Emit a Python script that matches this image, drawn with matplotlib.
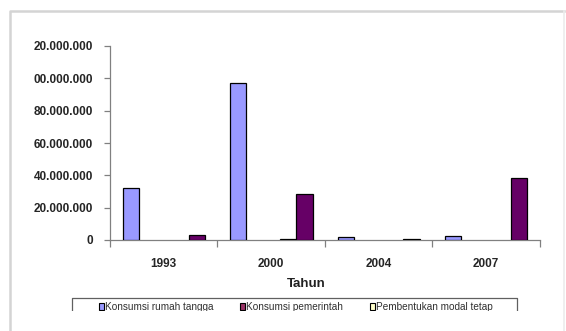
import numpy as np
import matplotlib
matplotlib.use("Agg")
import matplotlib.pyplot as plt
from matplotlib.lines import Line2D
from matplotlib.patches import Rectangle

# tahun dan nilai per komponen (rupiah)
tahun = ["1993", "2000", "2004", "2007"]
konsumsi_rumah_tangga = [32400000, 97000000, 2000000, 2500000]
konsumsi_pemerintah = [0, 0, 0, 0]
pembentukan_modal = [0, 0, 0, 0]
seri_4 = [0, 500000, 0, 0]
seri_5 = [2900000, 28500000, 500000, 38600000]

nama_legenda = ["Konsumsi rumah tangga", "Konsumsi pemerintah",
                "Pembentukan modal tetap"]
warna = ["#9999ff", "#993366", "#ffffcc", "#ccffff", "#660066"]
yticks = [0, 20000000, 40000000, 60000000, 80000000, 100000000, 120000000]
ylabels = ["0", "20.000.000", "40.000.000", "60.000.000", "80.000.000",
           "00.000.000", "20.000.000"]

plt.rcParams["font.family"] = ["Liberation Sans", "DejaVu Sans"]

fig = plt.figure(figsize=(5.66, 3.31), dpi=100)
ax = fig.add_axes([110 / 566, 1 - 240 / 331, 430 / 566, 194 / 331])

semua = [konsumsi_rumah_tangga, konsumsi_pemerintah, pembentukan_modal,
         seri_4, seri_5]
lebar = 16.5 / 107.5
tepi = 12.5 / 107.5
x = np.arange(len(tahun))
for j, nilai in enumerate(semua):
    nilai = np.array(nilai)
    ada = nilai > 0
    ax.bar(x[ada] + tepi + j * lebar, nilai[ada], width=lebar, align="edge",
           color=warna[j], edgecolor="black", linewidth=0.9, zorder=3)

ax.set_xlim(0, len(tahun))
ax.set_ylim(0, 120000000)
ax.set_yticks(yticks)
ax.set_yticklabels(ylabels, fontsize=8.5, fontweight="bold", color="#252525")
ax.set_xticks(x + 0.5)
ax.set_xticklabels(tahun, fontsize=8.5, fontweight="bold", color="#252525")
ax.set_xticks(np.arange(len(tahun) + 1), minor=True)
ax.tick_params(axis="x", which="major", length=0, pad=13)
ax.tick_params(axis="x", which="minor", length=5, color="#808080", width=0.9)
ax.tick_params(axis="y", length=4, color="#808080", width=0.9, pad=8)
for s in ["top", "right"]:
    ax.spines[s].set_visible(False)
for s in ["left", "bottom"]:
    ax.spines[s].set_color("#808080")
    ax.spines[s].set_linewidth(0.9)

fig.text(306 / 566, 1 - 284 / 331, "Tahun", fontsize=9.5,
         fontweight="bold", ha="center", va="center", color="#202020")

# legenda di bawah, hanya baris pertama yang tampak
W, H = 566.0, 331.0
def fx(px):
    return px / W
def fy(py):
    return 1 - py / H

kotak_x = [99, 240, 370]
for kx, nama, c in zip(kotak_x, nama_legenda, warna[:3]):
    fig.patches.append(Rectangle((fx(kx), fy(310)), 5 / W, 7 / H,
                                 transform=fig.transFigure, facecolor=c,
                                 edgecolor="black", linewidth=0.8))
    fig.text(fx(kx + 6), fy(307), nama, fontsize=7.2, ha="left",
             va="center", color="#303030")

fig.lines.append(Line2D([fx(72), fx(72), fx(517), fx(517)],
                        [fy(310), fy(298), fy(298), fy(310)],
                        transform=fig.transFigure, color="#606060", lw=0.9))
fig.patches.append(Rectangle((0, 0), 1, fy(310.5), transform=fig.transFigure,
                             facecolor="white", edgecolor="none", zorder=5))

# bingkai abu-abu
fig.lines.append(Line2D([fx(10), fx(10), fx(564)], [0, fy(11), fy(11)],
                        transform=fig.transFigure, color="#d4d4d4", lw=1.8,
                        zorder=6))
fig.lines.append(Line2D([fx(564), fx(564)], [0, fy(11)],
                        transform=fig.transFigure, color="#ececec", lw=1.2,
                        zorder=6))

fig.savefig("out.png", dpi=100)
